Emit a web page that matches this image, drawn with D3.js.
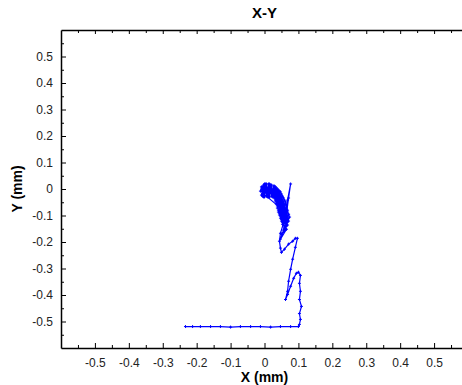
<!DOCTYPE html>
<html>
<head>
<meta charset="utf-8">
<script src="https://cdn.jsdelivr.net/npm/d3@7"></script>
<style>
body{margin:0;background:#fff;}
svg text{font-family:Arial,"Liberation Sans",sans-serif;}
.tick text{font-size:12px;fill:#222;}
.domain{stroke:#000;stroke-width:1.5;}
.tick line{stroke:#000;}
</style>
</head>
<body>
<svg id="graph"></svg>
<script>
// trajectory, in mm
var xs=[-0.006,-0.009,-0.003,-0.003,0.003,0.006,0.012,0.012,0.018,0.021,0.027,0.027,0.032,0.032,0.038,0.035,0.044,0.038,0.050,0.041,0.056,0.044,0.062,0.047,0.065,0.050,0.068,0.053,0.071,0.056,0.074,0.059,
  0.071,0.053,0.068,0.050,0.065,0.047,0.062,0.044,0.059,0.041,0.053,0.038,0.047,0.035,0.041,0.032,0.035,0.029,0.029,0.024,0.021,0.015,0.015,0.009,0.006,0.000,0.000,-0.006,-0.009,-0.012,
  0.065,0.071,0.077,0.068,0.059,
  0.071,0.056,0.068,0.050,0.065,0.047,0.059,0.053,0.062,0.050,
  0.056,0.047,0.044,0.047,0.050,0.059,0.071,0.083,0.091,0.097,
  0.091,0.083,0.077,0.071,0.068,0.062,
  0.068,0.077,0.086,0.094,0.100,0.106,
  0.103,0.106,0.103,0.109,0.103,0.106,0.103,0.100,
  0.077,0.047,0.018,-0.012,-0.041,-0.071,-0.100,-0.130,-0.159,-0.189,-0.212,-0.233]
var ys=[0.008,-0.023,0.015,-0.030,0.019,-0.027,0.019,-0.030,0.015,-0.027,0.011,-0.030,0.008,-0.038,0.000,-0.049,-0.008,-0.064,-0.019,-0.080,-0.034,-0.091,-0.049,-0.102,-0.064,-0.114,-0.080,-0.125,-0.095,-0.136,-0.106,-0.148,
  -0.098,-0.133,-0.087,-0.121,-0.072,-0.110,-0.057,-0.098,-0.042,-0.087,-0.027,-0.072,-0.011,-0.057,-0.004,-0.045,0.004,-0.034,0.011,-0.030,0.015,-0.030,0.019,-0.030,0.019,-0.030,0.019,-0.027,0.008,-0.008,
  -0.091,-0.034,0.019,-0.042,-0.098,
  -0.121,-0.155,-0.136,-0.170,-0.152,-0.189,-0.144,-0.114,-0.083,-0.068,
  -0.129,-0.167,-0.197,-0.223,-0.239,-0.227,-0.208,-0.197,-0.186,-0.186,
  -0.220,-0.265,-0.303,-0.348,-0.386,-0.417,
  -0.398,-0.367,-0.337,-0.318,-0.314,-0.326,
  -0.356,-0.386,-0.417,-0.443,-0.470,-0.492,-0.511,-0.519,
  -0.519,-0.519,-0.521,-0.519,-0.519,-0.519,-0.521,-0.519,-0.519,-0.519,-0.519,-0.519]

var xTicks=[-0.5,-0.4,-0.3,-0.2,-0.1,0,0.1,0.2,0.3,0.4,0.5]
var yTicks=[-0.5,-0.4,-0.3,-0.2,-0.1,0,0.1,0.2,0.3,0.4,0.5]
var minorTicks=[-0.55,-0.45,-0.35,-0.25,-0.15,-0.05,0.05,0.15,0.25,0.35,0.45,0.55]

var screen={width:462,height:385}
var margins={left:61,right:-6,top:30,bottom:37}
var graph={
    width:screen.width-margins.left-margins.right,
    height:screen.height-margins.top-margins.bottom
}

var svg=d3.select("#graph")
    .attr("width",screen.width)
    .attr("height",screen.height)

var xScale=d3.scaleLinear()
    .domain([-0.6,0.6])
    .range([0,graph.width])
var yScale=d3.scaleLinear()
    .domain([-0.6,0.6])
    .range([graph.height,0])

var fmt=function(d){ return Math.abs(d)<1e-9 ? "0" : (Math.round(d*10)/10).toFixed(1) }

var plot=svg.append("g")
    .attr("transform","translate("+margins.left+","+margins.top+")")

// bottom axis, ticks inward
plot.append("g")
    .attr("transform","translate(0,"+graph.height+")")
    .call(d3.axisBottom(xScale).tickValues(xTicks).tickFormat(fmt).tickSizeInner(-5).tickSizeOuter(0).tickPadding(10))
plot.append("g")
    .attr("transform","translate(0,"+graph.height+")")
    .call(d3.axisBottom(xScale).tickValues(minorTicks).tickFormat("").tickSizeInner(-3).tickSizeOuter(0))
    .select(".domain").remove()

// top border
plot.append("g")
    .call(d3.axisTop(xScale).tickValues(xTicks).tickFormat("").tickSizeInner(-4).tickSizeOuter(0))
plot.append("g")
    .call(d3.axisTop(xScale).tickValues(minorTicks).tickFormat("").tickSizeInner(-3).tickSizeOuter(0))
    .select(".domain").remove()

// left axis
plot.append("g")
    .call(d3.axisLeft(yScale).tickValues(yTicks).tickFormat(fmt).tickSizeInner(-5).tickSizeOuter(0).tickPadding(8))
plot.append("g")
    .call(d3.axisLeft(yScale).tickValues(minorTicks).tickFormat("").tickSizeInner(-3).tickSizeOuter(0))
    .select(".domain").remove()

// trajectory
var pts=xs.map(function(x,i){ return [x,ys[i]] })
var line=d3.line()
    .x(function(d){ return xScale(d[0]) })
    .y(function(d){ return yScale(d[1]) })
plot.append("path")
    .datum(pts)
    .attr("d",line)
    .attr("fill","none")
    .attr("stroke","#0000ff")
    .attr("stroke-width",1.2)
plot.selectAll("path.mark")
    .data(pts)
    .enter()
    .append("path")
    .classed("mark",true)
    .attr("d",function(d){
        var cx=xScale(d[0]),cy=yScale(d[1])
        return "M"+(cx-1.5)+","+cy+"H"+(cx+1.5)+"M"+cx+","+(cy-1.5)+"V"+(cy+1.5)
    })
    .attr("stroke","#0000ff")
    .attr("stroke-width",1)

// labels
svg.append("text")
    .text("X-Y")
    .attr("x",margins.left+xScale(0))
    .attr("y",18)
    .attr("text-anchor","middle")
    .style("font-size","15px")
    .style("font-weight","bold")
svg.append("text")
    .text("X (mm)")
    .attr("x",margins.left+xScale(0))
    .attr("y",382)
    .attr("text-anchor","middle")
    .style("font-size","14px")
    .style("font-weight","bold")
svg.append("text")
    .text("Y (mm)")
    .attr("text-anchor","middle")
    .attr("transform","translate(22,"+(margins.top+yScale(0))+") rotate(-90)")
    .style("font-size","14px")
    .style("font-weight","bold")
</script>
</body>
</html>
